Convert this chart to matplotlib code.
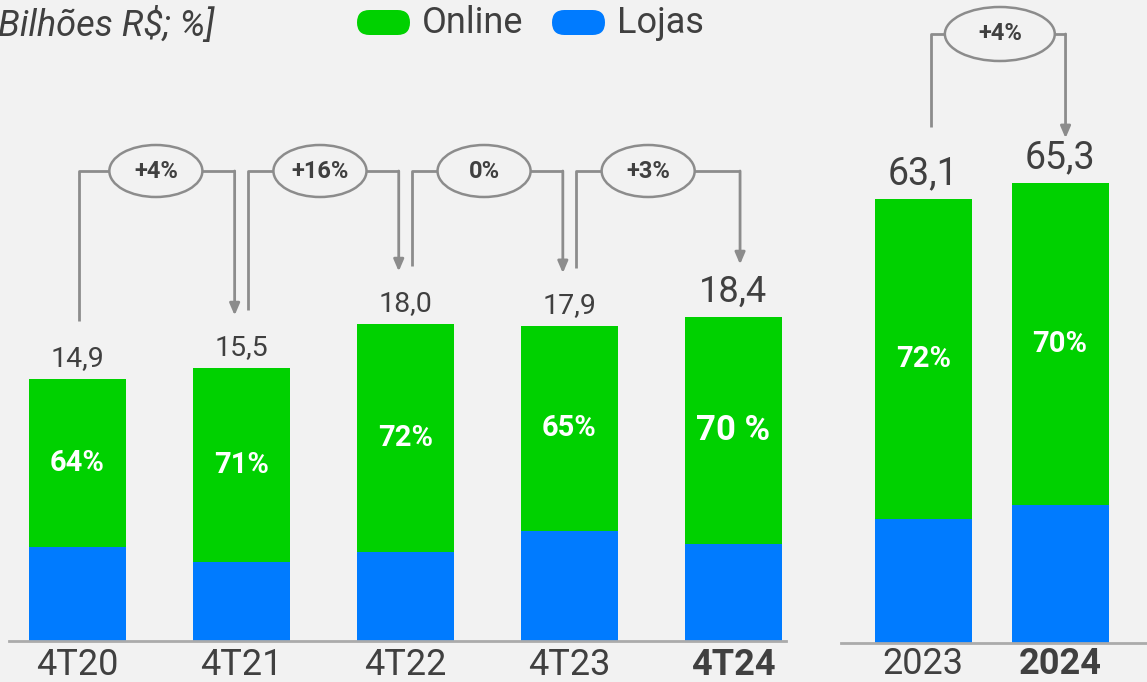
import matplotlib
matplotlib.use("Agg")
import matplotlib.pyplot as plt
from matplotlib.patches import Ellipse, FancyBboxPatch

# ---------------- data ----------------
quarters = ["4T20", "4T21", "4T22", "4T23", "4T24"]
quarter_totals = [14.9, 15.5, 18.0, 17.9, 18.4]
quarter_online_pct = [64, 71, 72, 65, 70]
quarter_pct_labels = ["64%", "71%", "72%", "65%", "70 %"]
quarter_growth = ["+4%", "+16%", "0%", "+3%"]

years = ["2023", "2024"]
year_totals = [63.1, 65.3]
year_online_pct = [72, 70]
year_pct_labels = ["72%", "70%"]
year_growth = ["+4%"]

series_names = ["Online", "Lojas"]
title_text = "Bilhões R$; %]"

# ---------------- style ----------------
BG = "#f2f2f2"
GREEN = "#00d100"
BLUE = "#007bff"
TXT = "#404040"
GRAY = "#8c8c8c"
AXIS = "#ababab"
FONT = ["Roboto", "DejaVu Sans"]
plt.rcParams["font.family"] = FONT

W, H = 1147, 682
fig = plt.figure(figsize=(W / 100, H / 100), dpi=100, facecolor=BG)


def fmt(v):
    return f"{v:.1f}".replace(".", ",")


def make_axes(rect, ylim, xlim, pad):
    ax = fig.add_axes(rect)
    ax.set_facecolor("none")
    ax.set_ylim(*ylim)
    ax.set_xlim(*xlim)
    for s in ["top", "right", "left"]:
        ax.spines[s].set_visible(False)
    ax.spines["bottom"].set_color(AXIS)
    ax.spines["bottom"].set_linewidth(2)
    ax.set_yticks([])
    ax.tick_params(axis="x", length=0, pad=pad, labelsize=26, labelcolor=TXT)
    return ax


def stacked(ax, labels, totals, pcts, pct_labels, width, bold_last,
            vsizes, psizes):
    xs = list(range(len(labels)))
    online = [t * p / 100 for t, p in zip(totals, pcts)]
    stores = [t - o for t, o in zip(totals, online)]
    ax.bar(xs, stores, width=width, color=BLUE, zorder=2)
    ax.bar(xs, online, bottom=stores, width=width, color=GREEN, zorder=2)
    for i, x in enumerate(xs):
        ax.annotate(fmt(totals[i]), (x, totals[i]), xytext=(0, 5),
                    textcoords="offset points", ha="center", va="bottom",
                    fontsize=vsizes[i], color=TXT)
        ax.text(x, stores[i] + online[i] / 2, pct_labels[i], ha="center",
                va="center", fontsize=psizes[i], color="white",
                fontweight="bold", zorder=3)
    ax.set_xticks(xs)
    ax.set_xticklabels(labels)
    if bold_last:
        ax.get_xticklabels()[-1].set_fontweight("bold")
    return xs


def bracket(ax, x0, x1, y0, y1, ybar, xc, ew, eh, label, fs):
    ax.plot([x0, x0, x1], [y0, ybar, ybar], color=GRAY, lw=2,
            solid_capstyle="butt", zorder=4)
    ax.annotate("", xy=(x1, y1), xytext=(x1, ybar),
                arrowprops=dict(arrowstyle="-|>,head_length=0.7,head_width=0.3",
                                color=GRAY, lw=2, shrinkA=0, shrinkB=0),
                zorder=4)
    ax.add_patch(Ellipse((xc, ybar), ew, eh, facecolor=BG, edgecolor=GRAY,
                         lw=1.8, zorder=5))
    ax.text(xc, ybar, label, ha="center", va="center", fontsize=fs,
            fontweight="bold", color=TXT, zorder=6)


# ---------------- left panel ----------------
left_scale = 17.6  # px per unit
axL = make_axes([9 / W, (H - 641) / H, (786 - 9) / W, 641 / H],
                (0, 641 / left_scale), (-0.415, 4.32), 4)
xsL = stacked(axL, quarters, quarter_totals, quarter_online_pct,
              quarter_pct_labels, 0.59, True,
              [20.5, 20.5, 20.5, 20.5, 26], [21, 21, 21, 21, 25])
ybarL = (641 - 171) / left_scale
for i, g in enumerate(quarter_growth):
    x0 = xsL[i] + (0.01 if i == 0 else 0.04)
    x1 = xsL[i + 1] - 0.04 if i + 1 < len(xsL) - 1 else xsL[i + 1] + 0.04
    y0 = quarter_totals[i] + 3.3
    y1 = quarter_totals[i + 1] + 3.0
    xc = (xsL[i] + xsL[i + 1]) / 2 - 0.02
    bracket(axL, x0, x1, y0, y1, ybarL, xc, 93 / 164, 52 / left_scale, g, 17)

# ---------------- right panel ----------------
right_scale = 7.04
axR = make_axes([841 / W, (H - 643) / H, (W - 841) / W, 643 / H],
                (0, 643 / right_scale), (-0.6, 1.635), 2)
xsR = stacked(axR, years, year_totals, year_online_pct, year_pct_labels,
              0.708, True, [27, 27], [21, 21])
ybarR = (643 - 34) / right_scale
bracket(axR, xsR[0] + 0.06, xsR[1] + 0.04, year_totals[0] + 10.2,
        year_totals[1] + 6.4, ybarR, 0.56, 110 / 137, 54 / right_scale,
        year_growth[0], 17)

# ---------------- title + legend (pixel overlay) ----------------
ov = fig.add_axes([0, 0, 1, 1])
ov.set_xlim(0, W)
ov.set_ylim(H, 0)
ov.axis("off")
ov.patch.set_alpha(0)
ov.text(-2, 25, title_text, fontsize=26, style="italic", color=TXT,
        ha="left", va="center")
legend_items = [(series_names[0], GREEN, 357, 422),
                (series_names[1], BLUE, 552, 617)]
for name, col, px, tx in legend_items:
    ov.add_patch(FancyBboxPatch((px, 10), 53, 25,
                                boxstyle="round,pad=0,rounding_size=12.5",
                                facecolor=col, edgecolor="none"))
    ov.text(tx, 23, name, fontsize=26, color=TXT, ha="left", va="center")

fig.savefig("out.png", dpi=100, facecolor=BG)
